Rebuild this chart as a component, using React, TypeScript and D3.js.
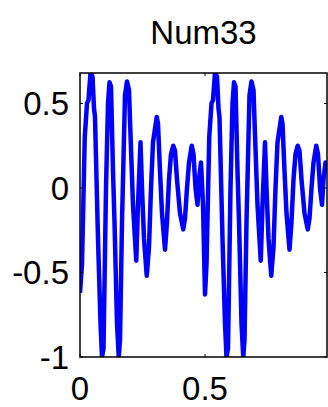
import React from "react";
import * as d3 from "d3";

const title = "Num33";
const xTicks = [0, 0.5];
const yTicks = [-1, -0.5, 0, 0.5];
const xDomain: [number, number] = [0, 0.988];
const yDomain: [number, number] = [-1, 0.68];

const tValues = [
  0.0, 0.008, 0.019, 0.028, 0.034, 0.042, 0.05, 0.056, 0.06, 0.072, 0.082, 0.088, 0.094, 0.104, 0.112, 0.118,
  0.124, 0.132, 0.138, 0.148, 0.155, 0.16, 0.168, 0.176, 0.18, 0.188, 0.196, 0.2, 0.212, 0.225, 0.232, 0.242,
  0.248, 0.256, 0.267, 0.276, 0.284, 0.292, 0.3, 0.307, 0.312, 0.32, 0.328, 0.34, 0.348, 0.356, 0.364, 0.373,
  0.38, 0.388, 0.4, 0.413, 0.42, 0.428, 0.436, 0.447, 0.454, 0.462, 0.47, 0.476, 0.484, 0.492, 0.5,
  0.506, 0.517, 0.526, 0.532, 0.54, 0.548, 0.554, 0.558, 0.57, 0.58, 0.586, 0.592, 0.602, 0.61, 0.616,
  0.622, 0.63, 0.636, 0.646, 0.653, 0.658, 0.666, 0.674, 0.678, 0.686, 0.694, 0.698, 0.71, 0.723, 0.73, 0.74,
  0.746, 0.754, 0.765, 0.774, 0.782, 0.79, 0.798, 0.805, 0.81, 0.818, 0.826, 0.838, 0.846, 0.854, 0.862, 0.871,
  0.878, 0.886, 0.898, 0.911, 0.918, 0.926, 0.934, 0.945, 0.952, 0.96, 0.968, 0.974, 0.982, 0.988,
];

const seriesValues = [
  -0.62, -0.45, 0.3, 0.5, 0.52, 0.68, 0.66, 0.47, 0.42, -0.3, -0.8, -1.0, -0.95, 0.0, 0.5, 0.625,
  0.6, 0.1, -0.2, -0.8, -1.0, -0.9, -0.2, 0.3, 0.55, 0.63, 0.58, 0.4, -0.1, -0.43, -0.1, 0.27,
  0.0, -0.3, -0.52, -0.35, 0.0, 0.27, 0.35, 0.42, 0.38, 0.1, -0.15, -0.365, -0.2, 0.05, 0.2, 0.25,
  0.22, 0.05, -0.15, -0.245, -0.18, 0.0, 0.15, 0.25, 0.2, 0.0, -0.1, 0.05, 0.15, -0.1, -0.63,
  -0.45, 0.3, 0.5, 0.52, 0.68, 0.66, 0.47, 0.42, -0.3, -0.8, -1.0, -0.95, 0.0, 0.5, 0.625,
  0.6, 0.1, -0.2, -0.8, -1.0, -0.9, -0.2, 0.3, 0.55, 0.63, 0.58, 0.4, -0.1, -0.43, -0.1, 0.27,
  0.0, -0.3, -0.52, -0.35, 0.0, 0.27, 0.35, 0.42, 0.38, 0.1, -0.15, -0.365, -0.2, 0.05, 0.2, 0.25,
  0.22, 0.05, -0.15, -0.245, -0.18, 0.0, 0.15, 0.25, 0.2, 0.0, -0.1, 0.05, 0.15, 0.12,
];

const W = 328;
const H = 407;
const left = 80;
const right = 327;
const top = 73;
const bottom = 357;

export default function App() {
  const x = d3.scaleLinear().domain(xDomain).range([left, right]);
  const y = d3.scaleLinear().domain(yDomain).range([bottom, top]);
  const data = tValues.map((t, i) => [t, seriesValues[i]] as [number, number]);
  const line = d3
    .line<[number, number]>()
    .x((d) => x(d[0]))
    .y((d) => y(d[1]));
  const font = "'Liberation Sans', Arial, sans-serif";
  const tl = 3;
  return (
    <svg
      width={W}
      height={H}
      style={{ position: "absolute", left: 0, top: 0, background: "#fff" }}
    >
      <defs>
        <clipPath id="plotclip">
          <rect x={left} y={top} width={right - left} height={bottom - top} />
        </clipPath>
      </defs>
      <rect x={0} y={0} width={W} height={H} fill="#fff" />
      <text
        x={(left + right) / 2}
        y={44}
        textAnchor="middle"
        fontFamily={font}
        fontSize={33}
        fill="#000"
      >
        {title}
      </text>
      <path
        d={line(data) || ""}
        fill="none"
        stroke="#0000ff"
        strokeWidth={4.5}
        strokeLinejoin="round"
        clipPath="url(#plotclip)"
      />
      <rect
        x={left}
        y={top}
        width={right - left}
        height={bottom - top}
        fill="none"
        stroke="#000"
        strokeWidth={1.5}
      />
      {xTicks.map((t) => (
        <g key={"x" + t}>
          <line x1={x(t)} x2={x(t)} y1={bottom} y2={bottom - tl} stroke="#000" />
          <line x1={x(t)} x2={x(t)} y1={top} y2={top + tl} stroke="#000" />
          <text
            x={x(t)}
            y={400}
            textAnchor="middle"
            fontFamily={font}
            fontSize={33}
            fill="#000"
          >
            {String(t)}
          </text>
        </g>
      ))}
      {yTicks.map((t) => (
        <g key={"y" + t}>
          <line x1={left} x2={left + tl} y1={y(t)} y2={y(t)} stroke="#000" />
          <line x1={right} x2={right - tl} y1={y(t)} y2={y(t)} stroke="#000" />
          <text
            x={69}
            y={y(t)}
            dy="0.36em"
            textAnchor="end"
            fontFamily={font}
            fontSize={33}
            fill="#000"
          >
            {String(t)}
          </text>
        </g>
      ))}
    </svg>
  );
}
